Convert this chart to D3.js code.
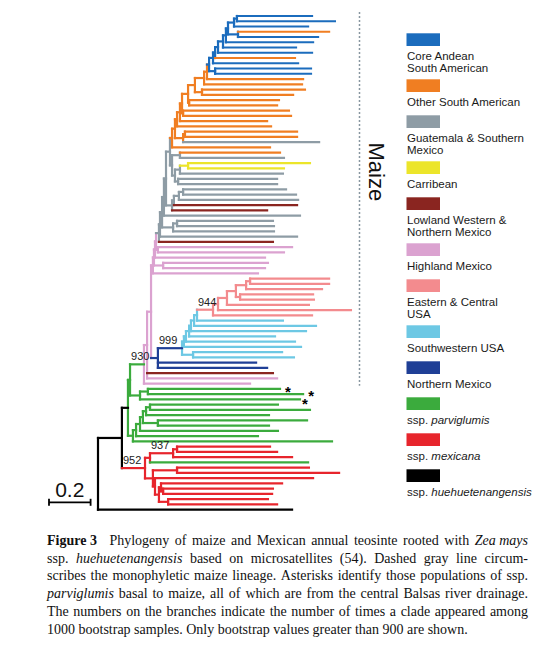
<!DOCTYPE html>
<html><head><meta charset="utf-8">
<script src="https://cdn.jsdelivr.net/npm/d3@7"></script>
<style>body{margin:0;background:#fff}svg{display:block}</style>
</head><body><svg id="c" width="560" height="653"></svg>
<script>
// ---------- DATA ----------
const groupCodes = ["A","O","G","Y","L","H","E","S","N","P","M","K"];
const groupColors = ["#1b6cbd","#f07e22","#8e9ca5","#ece52a","#8a2520","#dba2d0","#f38b8e","#6dc8e4","#1f3f96","#3bab3d","#e7252c","#000000"];
const groupLabels = [
  ["Core Andean","South American"],
  ["Other South American"],
  ["Guatemala & Southern","Mexico"],
  ["Carribean"],
  ["Lowland Western &","Northern Mexico"],
  ["Highland Mexico"],
  ["Eastern & Central","USA"],
  ["Southwestern USA"],
  ["Northern Mexico"],
  ["ssp. _parviglumis_"],
  ["ssp. _mexicana_"],
  ["ssp. _huehuetenangensis_"]
];
// leaf groups, top to bottom (95 populations)
const leafGroups = "AAAOAAAAOAAAOOOOOOOOOOOOGOOGYYGGGGGGLLGGGGGLHHHHHHEEEEEEEESSSSSSSSNNLHHPPPPPPPPPPPMMMPMMMMMMMMK".split("");
// distance from root to each leaf tip
const leafDistances = [
 1.029,1.139,1.010,1.111,1.058,1.034,0.952,1.029,0.947,0.962,
 1.024,1.024,0.986,0.981,0.995,0.938,0.870,0.861,0.918,0.928,
 0.813,0.832,0.957,0.957,1.063,0.827,0.875,0.894,1.019,0.894,
 0.889,0.861,0.861,0.904,0.952,0.962,0.957,0.813,0.971,0.841,
 0.846,0.846,0.957,0.841,0.933,0.894,0.803,0.817,0.803,0.769,
 1.111,1.111,1.077,1.034,1.038,1.014,1.216,1.029,0.889,1.048,
 1.000,0.851,0.947,0.976,0.885,0.942,0.760,0.813,0.841,0.861,
 0.731,0.875,0.986,0.971,0.865,1.019,0.822,1.005,0.822,0.865,
 0.769,1.125,0.827,0.861,0.933,1.010,1.014,1.159,1.034,0.885,
 0.841,0.837,0.817,0.861,0.933
];
// internal nodes: [name, children, distance from root, group]
const internalNodes = [
 ["b12","1 2",0.668,"A"],["b123","b12 3",0.654,"A"],["b45","4 5",0.673,"A"],
 ["bA","b123 b45",0.625,"A"],["bB","bA 6",0.615,"A"],["bC","bB 7",0.601,"A"],
 ["bD","bC 8",0.577,"A"],["bE","bD 9",0.563,"A"],["bF","bE 10",0.553,"A"],
 ["b1112","11 12",0.563,"A"],["bG","bF b1112",0.534,"A"],
 ["oA","bG 13",0.524,"O"],["oB","oA 14",0.510,"O"],["o1516","15 16",0.500,"O"],
 ["oC","oB o1516",0.466,"O"],["o1718","17 18",0.438,"O"],["oD","oC o1718",0.433,"O"],
 ["o1920","19 20",0.409,"O"],["oE","oD o1920",0.404,"O"],["oF","oE 21",0.394,"O"],
 ["oG","oF 22",0.380,"O"],["o2324","23 24",0.418,"O"],["o2325","o2324 25",0.409,"O"],
 ["oH","oG o2325",0.370,"O"],["oI","oH 26",0.356,"O"],
 ["g2728","27 28",0.394,"G"],["y2930","29 30",0.433,"Y"],["g1","y2930 31",0.394,"G"],
 ["g3233","32 33",0.385,"G"],["g2","g1 g3233",0.370,"G"],["g3","g2728 g2",0.356,"G"],
 ["gA","oI g3",0.346,"G"],["g3435","34 35",0.409,"G"],["g4","g3435 36",0.389,"G"],
 ["g5","g4 37",0.365,"G"],["g6","g5 38",0.356,"G"],["gB","gA g6",0.327,"G"],
 ["gC","gB 39",0.317,"G"],["g4041","40 41",0.380,"G"],["g7","g4041 42",0.361,"G"],
 ["gD","gC g7",0.308,"G"],["gE","gD 43",0.298,"G"],["gF","gE 44",0.293,"G"],
 ["hA","45 46",0.288,"H"],["hB","gF hA",0.279,"H"],["hC","hB 47",0.274,"H"],
 ["h1","48 49",0.313,"H"],["hD","hC h1",0.269,"H"],["hP","hD 50",0.264,"H"],
 ["s1","51 52",0.731,"E"],["s2","s1 53",0.712,"E"],["s3a","54 55",0.683,"E"],
 ["s3","s2 s3a",0.663,"E"],["s4","s3 56",0.620,"E"],["s5","s4 57",0.577,"E"],
 ["s6","s5 58",0.553,"E"],
 ["c1","s6 59",0.476,"S"],["c2","c1 60",0.462,"S"],["c3","c2 61",0.447,"S"],
 ["c4","c3 62",0.438,"S"],["c5","c4 63",0.423,"S"],["c6","c5 64",0.413,"S"],
 ["cp","65 66",0.457,"S"],["croot","c6 cp",0.404,"S"],
 ["nD","croot 67 68",0.288,"N"],["mU","hP nD",0.255,"H"],["mA","mU 69 70",0.236,"H"],
 ["mR","mA 71",0.221,"H"],
 ["s12","72 73",0.240,"P"],["sA","s12 74",0.202,"P"],["G2","mR sA",0.154,"P"],
 ["gg1","75 76",0.250,"P"],["gg2","gg1 77",0.231,"P"],["gg3","78 79",0.288,"P"],
 ["gg4","gg2 gg3",0.216,"P"],["gg5","gg4 80",0.202,"P"],["gg6","gg5 81",0.183,"P"],
 ["gg7","gg6 82",0.168,"P"],["G1","G2 gg7",0.144,"P"],
 ["r1","83 84",0.380,"M"],["r2","r1 85",0.361,"M"],["r3","r2 86",0.250,"M"],
 ["r4","87 88",0.380,"M"],["r6","93 94",0.337,"M"],["r7","91 92",0.313,"M"],
 ["r8","90 r7",0.303,"M"],["r9","r8 r6",0.293,"M"],["r10","89 r9",0.274,"M"],
 ["r11","r4 r10",0.264,"M"],["r12","r3 r11",0.226,"M"],
 ["K","G1 r12",0.115,"K"],["root","K 95",0,"K"]
];
const bootstrapNodes = ["s6","croot","mR","r2","r12"];
const bootstrapValues = [944,999,930,937,952];
const stemOverrides = [["croot","N"],["mR","P"],["G1","K"]];
const starredLeaves = [72,73,74];
const scaleBarValue = 0.2;
const maizeLabel = "Maize";
const captionLines = [
 "^Figure 3^ Phylogeny of maize and Mexican annual teosinte rooted with _Zea mays_",
 "ssp. _huehuetenangensis_ based on microsatellites (54). Dashed gray line circum-",
 "scribes the monophyletic maize lineage. Asterisks identify those populations of ssp.",
 "_parviglumis_ basal to maize, all of which are from the central Balsas river drainage.",
 "The numbers on the branches indicate the number of times a clade appeared among",
 "1000 bootstrap samples. Only bootstrap values greater than 900 are shown."
];

// ---------- BUILD ----------
const svg = d3.select("#c");
const color = d3.scaleOrdinal().domain(groupCodes).range(groupColors);
const x = d3.scaleLinear().domain([0, 1]).range([98, 306]);
const y = d3.scaleLinear().domain([1, leafGroups.length]).range([16, 509.7]);

const byName = new Map();
internalNodes.forEach(([name, kids, dist, code]) => {
  byName.set(name, {name, dist, code, children: kids.split(" ").map(k =>
    /^\d+$/.test(k) ? {leaf: +k, dist: leafDistances[+k-1], code: leafGroups[+k-1]} : byName.get(k))});
});
const root = d3.hierarchy(byName.get("root"));
const stemMap = new Map(stemOverrides);
root.eachAfter(n => {
  n.px = x(n.data.dist);
  n.py = n.children ? (n.children[0].py + n.children[n.children.length-1].py) / 2 : y(n.data.leaf);
});

const gTree = svg.append("g").attr("fill","none").attr("stroke-width",2.2).attr("stroke-linecap","square");
// vertical connectors
gTree.selectAll("line.v").data(root.descendants().filter(n => n.children)).join("line")
  .attr("class","v")
  .attr("x1", n => n.px).attr("x2", n => n.px)
  .attr("y1", n => n.children[0].py).attr("y2", n => n.children[n.children.length-1].py)
  .attr("stroke", n => color(n.data.code));
// horizontal branches
gTree.selectAll("line.h").data(root.descendants().filter(n => n.parent)).join("line")
  .attr("class","h")
  .attr("x1", n => n.parent.px).attr("x2", n => n.px)
  .attr("y1", n => n.py).attr("y2", n => n.py)
  .attr("stroke", n => color(stemMap.get(n.data.name) || n.data.code));

// bootstrap labels
const nodeByName = new Map(root.descendants().filter(n => n.data.name).map(n => [n.data.name, n]));
svg.append("g").selectAll("text").data(bootstrapNodes).join("text")
  .attr("x", (d) => nodeByName.get(d).parent.px + 1)
  .attr("y", (d) => nodeByName.get(d).py - 4)
  .attr("font-family","Liberation Sans, Arial, sans-serif").attr("font-size",11).attr("fill","#222")
  .text((d,i) => bootstrapValues[i]);

// asterisks
const leafByNum = new Map(root.leaves().map(n => [n.data.leaf, n]));
svg.append("g").selectAll("text").data(starredLeaves).join("text")
  .attr("x", (d,i) => leafByNum.get(d).px + (i === 2 ? 5 : 8))
  .attr("y", (d,i) => leafByNum.get(d).py + 8.5 + (i === 1 ? -2 : i === 2 ? 1.5 : 0))
  .attr("text-anchor","middle")
  .attr("font-family","Liberation Sans, Arial, sans-serif").attr("font-size",15).attr("font-weight","bold")
  .text("*");

// dashed maize bracket
const maizeLeaves = root.leaves().filter(n => "AOGYLHESN".includes(n.data.code) && n.data.leaf < 72);
const yTop = d3.min(maizeLeaves, n => n.py), yBot = d3.max(maizeLeaves, n => n.py);
svg.append("line").attr("x1",359.5).attr("x2",359.5).attr("y1",yTop-4).attr("y2",yBot+2)
  .attr("stroke","#8896a0").attr("stroke-width",1.5).attr("stroke-dasharray","2,2");
svg.append("text").attr("transform",`translate(369,${(yTop+yBot)/2 - 28}) rotate(90)`)
  .attr("text-anchor","middle").attr("font-family","Liberation Sans, Arial, sans-serif")
  .attr("font-size",22).attr("fill","#111").text(maizeLabel);

// scale bar
const sbX = 49, sbY = 502.3, sbW = x(scaleBarValue) - x(0);
const sb = svg.append("g").attr("stroke","#000").attr("stroke-width",1.8);
sb.append("line").attr("x1",sbX).attr("x2",sbX+sbW).attr("y1",sbY).attr("y2",sbY);
sb.append("line").attr("x1",sbX).attr("x2",sbX).attr("y1",sbY-3.5).attr("y2",sbY+3.5);
sb.append("line").attr("x1",sbX+sbW).attr("x2",sbX+sbW).attr("y1",sbY-3.5).attr("y2",sbY+3.5);
svg.append("text").attr("x",sbX+sbW/2).attr("y",497).attr("text-anchor","middle")
  .attr("font-family","Liberation Sans, Arial, sans-serif").attr("font-size",21).attr("fill","#111")
  .text(d3.format(".1f")(scaleBarValue));

// legend
function addStyled(textSel, str) {
  (str.match(/_[^_]+_|[^_]+/g) || []).forEach(part => {
    const it = part[0] === "_";
    textSel.append("tspan").attr("font-style", it ? "italic" : "normal").text(it ? part.slice(1,-1) : part);
  });
}
let ly = 33.3;
const gLeg = svg.append("g").attr("font-family","Liberation Sans, Arial, sans-serif").attr("font-size",11.5).attr("fill","#1a1a1a");
groupCodes.forEach((c, i) => {
  gLeg.append("rect").attr("x",406.5).attr("y",ly).attr("width",33.5).attr("height",12.7).attr("fill",color(c));
  groupLabels[i].forEach((ln, j) => {
    const t = gLeg.append("text").attr("x",407).attr("y",ly + 27 + j*11.2);
    addStyled(t, ln);
  });
  ly += 36 + 10*(groupLabels[i].length - 1);
});

// caption (justified)
const capLeft = 47, capRight = 528, capTop = 545, capStep = 17.7;
const gCap = svg.append("g").attr("font-family","Liberation Serif, Times New Roman, serif").attr("font-size",14).attr("fill","#111");
captionLines.forEach((line, li) => {
  const toks = line.match(/\^[^^]+\^|_[^_]+_|\S+/g).map(t =>
    t[0] === "^" ? {t: t.slice(1,-1), w: "bold", extra: 7} :
    t[0] === "_" ? {t: t.slice(1,-1), s: "italic", extra: 0} : {t, extra: 0});
  const yy = capTop + li*capStep;
  const els = toks.map(tk => gCap.append("text").attr("y", yy)
      .attr("font-weight", tk.w || "normal").attr("font-style", tk.s || "normal").text(tk.t));
  const widths = els.map(e => e.node().getComputedTextLength());
  const totalW = d3.sum(widths) + d3.sum(toks, t => t.extra);
  const last = li === captionLines.length - 1;
  const gap = last ? 3.5 : (capRight - capLeft - totalW) / (toks.length - 1);
  let cx = capLeft;
  els.forEach((e, k) => { e.attr("x", cx); cx += widths[k] + gap + toks[k].extra; });
});
</script></body></html>
